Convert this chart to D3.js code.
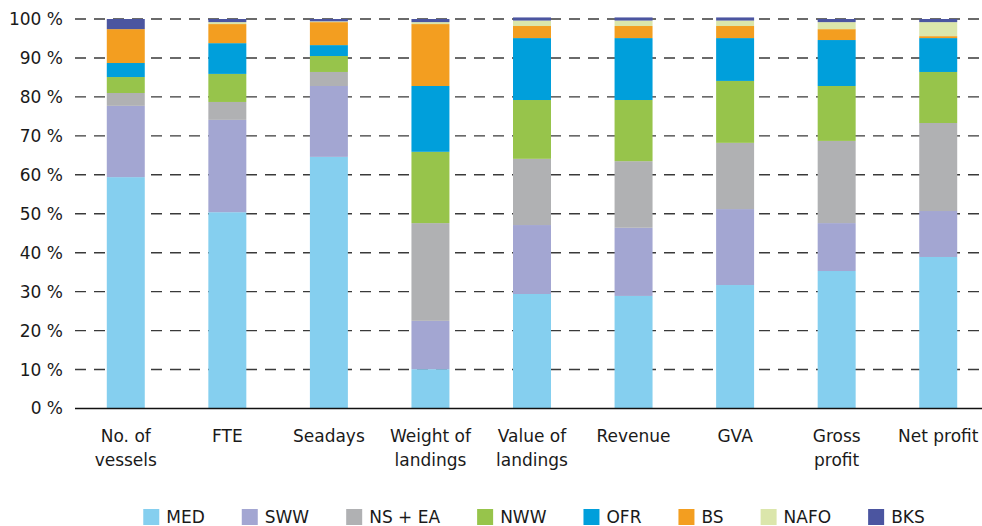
<!DOCTYPE html>
<html>
<head>
<meta charset="utf-8">
<script src="https://cdn.jsdelivr.net/npm/d3@7"></script>
<style>
  body { margin: 0; background: #fff; }
  text { font-family: "DejaVu Sans", sans-serif; fill: #1a1a1a; }
</style>
</head>
<body>
<div id="chart"></div>
<script>
// Categories (line breaks where the label wraps)
const categories = ["No. of\nvessels", "FTE", "Seadays", "Weight of\nlandings", "Value of\nlandings", "Revenue", "GVA", "Gross\nprofit", "Net profit"];

// Shares per region, in %
const seriesNames = ["MED", "SWW", "NS + EA", "NWW", "OFR", "BS", "NAFO", "BKS"];
const MED  = [59.4, 50.4, 64.6, 10.1, 29.4, 28.9, 31.7, 35.3, 38.9];
const SWW  = [18.3, 23.7, 18.2, 12.4, 17.7, 17.5, 19.5, 12.3, 11.8];
const NSEA = [3.3, 4.6, 3.6, 25.1, 17.0, 17.1, 17.0, 21.1, 22.6];
const NWW  = [4.1, 7.2, 4.1, 18.3, 15.1, 15.7, 15.9, 14.1, 13.1];
const OFR  = [3.6, 7.9, 2.8, 16.9, 15.9, 15.9, 11.0, 11.8, 8.7];
const BS   = [8.7, 4.9, 5.9, 15.9, 3.1, 3.1, 3.1, 2.8, 0.5];
const NAFO = [0, 0.5, 0.2, 0.5, 1.4, 1.4, 1.4, 1.8, 3.6];
const BKS  = [2.6, 0.8, 0.6, 0.8, 0.8, 0.8, 0.8, 0.8, 0.8];

const yTicks = [0, 10, 20, 30, 40, 50, 60, 70, 80, 90, 100];
const colors = ["#85cfef", "#a3a6d2", "#b0b1b3", "#97c44b", "#009fdb", "#f39e20", "#dbe6ab", "#4b55a0"];

// Setup
const width = 982;
const height = 526;
const seriesValues = [MED, SWW, NSEA, NWW, OFR, BS, NAFO, BKS];

const rows = categories.map((c, i) => {
    const row = { category: c };
    seriesNames.forEach((s, j) => { row[s] = seriesValues[j][i]; });
    return row;
});

const svg = d3.select("#chart")
    .append("svg")
    .attr("width", width)
    .attr("height", height);

const x = d3.scaleBand()
    .domain(categories)
    .range([75, 989])
    .paddingInner(0.626)
    .paddingOuter(0.313);

const y = d3.scaleLinear()
    .domain([0, 100])
    .range([408.5, 19]);

const color = d3.scaleOrdinal()
    .domain(seriesNames)
    .range(colors);

// gridlines
svg.append("g")
    .selectAll("line")
    .data(yTicks.filter(d => d > 0))
    .join("line")
    .attr("x1", 75)
    .attr("x2", width)
    .attr("y1", d => y(d))
    .attr("y2", d => y(d))
    .attr("stroke", "#3a3a3a")
    .attr("stroke-width", 1.4)
    .attr("stroke-dasharray", "11,8");

// y tick labels
svg.append("g")
    .selectAll("text")
    .data(yTicks)
    .join("text")
    .attr("x", 63)
    .attr("y", d => y(d))
    .attr("dy", "0.35em")
    .attr("text-anchor", "end")
    .style("font-size", "17px")
    .text(d => d + " %");

// stacked bars
const stacked = d3.stack().keys(seriesNames)(rows);

svg.append("g")
    .selectAll("g")
    .data(stacked)
    .join("g")
    .attr("fill", d => color(d.key))
    .selectAll("rect")
    .data(d => d)
    .join("rect")
    .attr("x", d => x(d.data.category))
    .attr("width", x.bandwidth())
    .attr("y", d => y(d[1]))
    .attr("height", d => y(d[0]) - y(d[1]));

// baseline
svg.append("line")
    .attr("x1", 75)
    .attr("x2", width)
    .attr("y1", y(0))
    .attr("y2", y(0))
    .attr("stroke", "#111")
    .attr("stroke-width", 1.5);

// x labels
const xl = svg.append("g")
    .selectAll("text")
    .data(categories)
    .join("text")
    .attr("x", d => x(d) + x.bandwidth() / 2)
    .attr("y", 442)
    .attr("text-anchor", "middle")
    .style("font-size", "17px");

xl.selectAll("tspan")
    .data(d => d.split("\n").map(t => ({ t, x: x(d) + x.bandwidth() / 2 })))
    .join("tspan")
    .attr("x", d => d.x)
    .attr("dy", (d, i) => i === 0 ? 0 : 24)
    .text(d => d.t);

// legend, centred under the plot
const legend = svg.append("g");
const items = legend.selectAll("g")
    .data(seriesNames)
    .join("g");

items.append("rect")
    .attr("width", 16)
    .attr("height", 16)
    .attr("y", 509)
    .attr("fill", d => color(d));

items.append("text")
    .attr("x", 23)
    .attr("y", 517)
    .attr("dy", "0.35em")
    .style("font-size", "17px")
    .text(d => d);

let pos = 0;
const gap = 37;
const offsets = [];
items.each(function () {
    offsets.push(pos);
    const w = d3.select(this).select("text").node().getComputedTextLength();
    pos += 23 + w + gap;
});
const total = pos - gap;
const start = (75 + 989) / 2 - total / 2 + 2;
items.attr("transform", (d, i) => `translate(${start + offsets[i]},0)`);
</script>
</body>
</html>
